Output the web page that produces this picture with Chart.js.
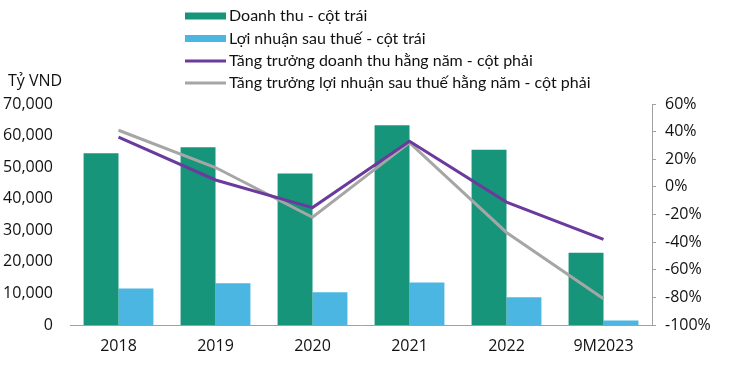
<!DOCTYPE html>
<html>
<head>
<meta charset="utf-8">
<script src="https://cdn.jsdelivr.net/npm/chart.js@4.4.0/dist/chart.umd.min.js"></script>
<style>
  html, body { margin: 0; padding: 0; background: #fff; }
  #wrap { width: 750px; height: 369px; }
</style>
</head>
<body>
<div id="wrap"><canvas id="myChart"></canvas></div>
<script>
// Données
const years = ['2018', '2019', '2020', '2021', '2022', '9M2023'];
const doanhThu = [54400, 56300, 48000, 63300, 55500, 22900];      // Tỷ VND
const loiNhuan = [11600, 13200, 10400, 13500, 8800, 1400];         // Tỷ VND
const tangTruongDT = [36, 5, -15, 33, -11, -38];                   // %
const tangTruongLN = [41, 14, -22, 32, -33, -81];                  // %
const leftTicks = [0, 10000, 20000, 30000, 40000, 50000, 60000, 70000];
const rightTicks = [-100, -80, -60, -40, -20, 0, 20, 40, 60];

const GREEN = '#17957a';
const BLUE = '#4cb6e3';
const PURPLE = '#6a3a9c';
const GREY = '#a6a6a6';
const AXIS = '#a0a0a0';

// Légende verticale + titre "Tỷ VND" dessinés à la main
const customLegend = {
  id: 'customLegend',
  afterDraw(chart) {
    const c = chart.ctx;
    c.save();
    c.textBaseline = 'middle';
    c.font = '16px Lato';
    c.fillStyle = '#111';
    const rows = [16, 38.5, 61, 83];
    chart.data.datasets.forEach((ds, i) => {
      const y = rows[i];
      if (ds.type === 'line') {
        c.strokeStyle = ds.borderColor;
        c.lineWidth = 3;
        c.beginPath();
        c.moveTo(185, y);
        c.lineTo(226, y);
        c.stroke();
      } else {
        c.fillStyle = ds.backgroundColor;
        c.fillRect(185, y - 3.5, 41, 7);
      }
      c.fillStyle = '#111';
      c.textAlign = 'left';
      c.fillText(ds.label, 229, y);
    });
    c.font = '16px "Open Sans"';
    c.textAlign = 'left';
    c.fillText('Tỷ VND', 8, 81);
    c.restore();
  }
};

new Chart(document.getElementById('myChart'), {
  type: 'bar',
  data: {
    labels: years,
    datasets: [
      {
        label: 'Doanh thu - cột trái',
        data: doanhThu,
        backgroundColor: GREEN,
        yAxisID: 'y',
        order: 2,
        categoryPercentage: 0.72,
        barPercentage: 1
      },
      {
        label: 'Lợi nhuận sau thuế - cột trái',
        data: loiNhuan,
        backgroundColor: BLUE,
        yAxisID: 'y',
        order: 2,
        categoryPercentage: 0.72,
        barPercentage: 1
      },
      {
        type: 'line',
        label: 'Tăng trưởng doanh thu hằng năm - cột phải',
        data: tangTruongDT,
        borderColor: PURPLE,
        borderWidth: 3,
        pointRadius: 0,
        tension: 0,
        yAxisID: 'y1',
        order: 0
      },
      {
        type: 'line',
        label: 'Tăng trưởng lợi nhuận sau thuế hằng năm - cột phải',
        data: tangTruongLN,
        borderColor: GREY,
        borderWidth: 3,
        pointRadius: 0,
        tension: 0,
        yAxisID: 'y1',
        order: 1
      }
    ]
  },
  options: {
    responsive: true,
    maintainAspectRatio: false,
    animation: false,
    layout: { padding: { top: 104, left: 0, right: 0, bottom: 0 } },
    plugins: {
      legend: { display: false },
      tooltip: { enabled: false }
    },
    scales: {
      x: {
        offset: true,
        grid: { display: false, drawTicks: false },
        border: { display: true, color: AXIS, width: 1 },
        ticks: {
          color: '#111',
          padding: 12,
          font: { family: 'Open Sans', size: 16 }
        },
        afterFit(scale) { scale.height = 44; }
      },
      y: {
        position: 'left',
        min: 0,
        max: 70000,
        afterBuildTicks(scale) { scale.ticks = leftTicks.map(v => ({ value: v })); },
        grid: { display: false, drawTicks: false },
        border: { display: false },
        ticks: {
          color: '#111',
          padding: 17,
          font: { family: 'Open Sans', size: 16 },
          callback: v => v.toLocaleString('en-US')
        },
        afterFit(scale) { scale.width = 70; }
      },
      y1: {
        position: 'right',
        min: -100,
        max: 60,
        afterBuildTicks(scale) { scale.ticks = rightTicks.map(v => ({ value: v })); },
        grid: { drawOnChartArea: false, drawTicks: true, tickLength: 4, color: AXIS },
        border: { display: true, color: AXIS, width: 1 },
        ticks: {
          color: '#111',
          padding: 9,
          font: { family: 'Open Sans', size: 16 },
          callback: v => v + '%'
        },
        afterFit(scale) { scale.width = 98; }
      }
    }
  },
  plugins: [customLegend]
});
</script>
</body>
</html>
